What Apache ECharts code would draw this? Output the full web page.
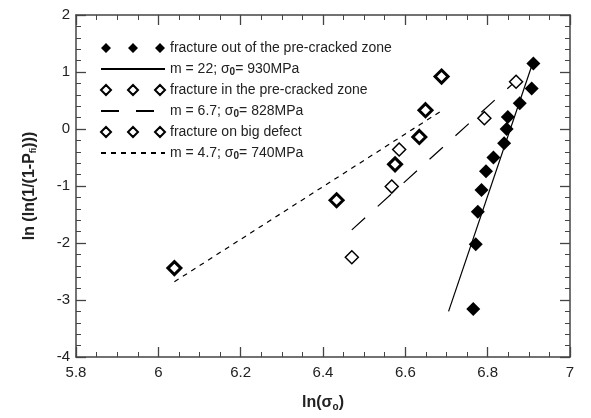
<!DOCTYPE html>
<html>
<head>
<meta charset="utf-8">
<script src="https://cdn.jsdelivr.net/npm/echarts@6/dist/echarts.min.js"></script>
<style>
html, body { margin: 0; padding: 0; background: #fff; }
#chart { width: 591px; height: 418px; }
</style>
</head>
<body>
<div id="chart"></div>
<script>
// fracture out of the pre-cracked zone
const outX = [6.911, 6.907, 6.878, 6.849, 6.846, 6.840, 6.814, 6.796, 6.785, 6.776, 6.771, 6.765];
const outY = [1.15, 0.71, 0.45, 0.21, 0.0, -0.25, -0.50, -0.74, -1.07, -1.45, -2.02, -3.16];
// fracture in the pre-cracked zone
const inX = [6.470, 6.567, 6.585, 6.792, 6.869];
const inY = [-2.25, -1.01, -0.36, 0.19, 0.83];
// fracture on big defect
const defX = [6.039, 6.433, 6.575, 6.634, 6.649, 6.688];
const defY = [-2.44, -1.25, -0.62, -0.14, 0.33, 0.92];
// fitted Weibull lines (end points)
const fit1X = [6.705, 6.91], fit1Y = [-3.2, 1.17];
const fit2X = [6.47, 6.871], fit2Y = [-1.77, 0.86];
const fit3X = [6.039, 6.688], fit3Y = [-2.68, 0.32];

const names = [
  'fracture out of the pre-cracked zone',
  'm = 22; σ0= 930MPa',
  'fracture in the pre-cracked zone',
  'm = 6.7; σ0= 828MPa',
  'fracture on big defect',
  'm = 4.7; σ0= 740MPa'
];

const pairs = (xs, ys) => xs.map((x, i) => [x, ys[i]]);
const threeDiamonds = 'path://M0,5L5,0L10,5L5,10Z M27,5L32,0L37,5L32,10Z M54,5L59,0L64,5L59,10Z';

let myChart = echarts.init(document.getElementById('chart'));

const axisCommon = {
  type: 'value',
  axisLine: { show: true, onZero: false, lineStyle: { color: '#444', width: 1.5 } },
  axisTick: { show: true, inside: true, length: 10, lineStyle: { color: '#444', width: 1.3 } },
  minorTick: { show: true, length: 5, lineStyle: { color: '#444', width: 1 } },
  splitLine: { show: false }
};

myChart.setOption({
  animation: false,
  grid: { left: 76, right: 21, top: 15, bottom: 61 },
  legend: {
    orient: 'vertical',
    left: 100,
    top: 41,
    padding: 0,
    itemWidth: 64,
    itemHeight: 10,
    itemGap: 6,
    data: [
      { name: names[0], icon: threeDiamonds },
      { name: names[1], itemStyle: { opacity: 0 } },
      { name: names[2], icon: threeDiamonds },
      { name: names[3], itemStyle: { opacity: 0 } },
      { name: names[4], icon: threeDiamonds },
      { name: names[5], itemStyle: { opacity: 0 } }
    ],
    formatter: function (n) {
      if (n.indexOf('σ0') >= 0) {
        const p = n.split('σ0');
        return '{t|' + p[0] + 'σ}{s|0}{t|' + p[1] + '}';
      }
      return '{t|' + n + '}';
    },
    textStyle: {
      color: '#222',
      rich: {
        t: { fontFamily: 'Liberation Sans', fontSize: 14, color: '#222', lineHeight: 16 },
        s: { fontFamily: 'Liberation Sans', fontSize: 10, fontWeight: 'bold', color: '#222', lineHeight: 10, padding: [6, 0, 0, 0] }
      }
    }
  },
  xAxis: [
    Object.assign({}, axisCommon, {
      min: 5.8, max: 7, interval: 0.2,
      minorTick: Object.assign({}, axisCommon.minorTick, { splitNumber: 4 }),
      axisLabel: { color: '#222', fontSize: 15, fontFamily: 'Liberation Sans', margin: 8,
        formatter: v => String(+v.toFixed(1)) },
      name: 'ln(σ{s|o})',
      nameLocation: 'middle',
      nameGap: 37,
      nameTextStyle: {
        fontFamily: 'Liberation Sans', fontSize: 16, fontWeight: 'bold', color: '#222',
        rich: { s: { fontSize: 10, fontWeight: 'bold', color: '#222', padding: [8, 0, 0, 0] } }
      }
    }),
    Object.assign({}, axisCommon, {
      position: 'top', min: 5.8, max: 7, interval: 0.2,
      minorTick: Object.assign({}, axisCommon.minorTick, { splitNumber: 4 }),
      axisLabel: { show: false }
    })
  ],
  yAxis: [
    Object.assign({}, axisCommon, {
      min: -4, max: 2, interval: 1,
      minorTick: Object.assign({}, axisCommon.minorTick, { splitNumber: 5 }),
      axisLabel: { color: '#222', fontSize: 15, fontFamily: 'Liberation Sans', margin: 6 },
      name: 'ln (ln(1/(1-P{s|fi})))',
      nameLocation: 'middle',
      nameGap: 38,
      nameTextStyle: {
        fontFamily: 'Liberation Sans', fontSize: 16, fontWeight: 'bold', color: '#222',
        rich: { s: { fontSize: 9, fontWeight: 'bold', color: '#222', padding: [8, 0, 0, 0] } }
      }
    }),
    Object.assign({}, axisCommon, {
      position: 'right', min: -4, max: 2, interval: 1,
      minorTick: Object.assign({}, axisCommon.minorTick, { splitNumber: 5 }),
      axisLabel: { show: false }
    })
  ],
  series: [
    {
      name: names[0], type: 'scatter', symbol: 'diamond', symbolSize: 14,
      itemStyle: { color: '#000', borderColor: '#000', borderWidth: 0, opacity: 1 },
      data: pairs(outX, outY), z: 4
    },
    {
      name: names[1], type: 'line', symbol: 'none',
      lineStyle: { color: '#000', width: 1.2, type: 'solid' },
      data: pairs(fit1X, fit1Y), z: 3
    },
    {
      name: names[2], type: 'scatter', symbol: 'diamond', symbolSize: 13,
      itemStyle: { color: '#fff', borderColor: '#000', borderWidth: 1.5, opacity: 1 },
      data: pairs(inX, inY), z: 4
    },
    {
      name: names[3], type: 'line', symbol: 'none',
      lineStyle: { color: '#000', width: 1.2, type: [18, 17] },
      data: pairs(fit2X, fit2Y), z: 3
    },
    {
      name: names[4], type: 'scatter', symbol: 'diamond', symbolSize: 13,
      itemStyle: { color: '#fff', borderColor: '#000', borderWidth: 3, opacity: 1 },
      data: pairs(defX, defY), z: 4
    },
    {
      name: names[5], type: 'line', symbol: 'none',
      lineStyle: { color: '#000', width: 1.2, type: [5, 5] },
      data: pairs(fit3X, fit3Y), z: 3
    }
  ]
});
</script>
</body>
</html>
